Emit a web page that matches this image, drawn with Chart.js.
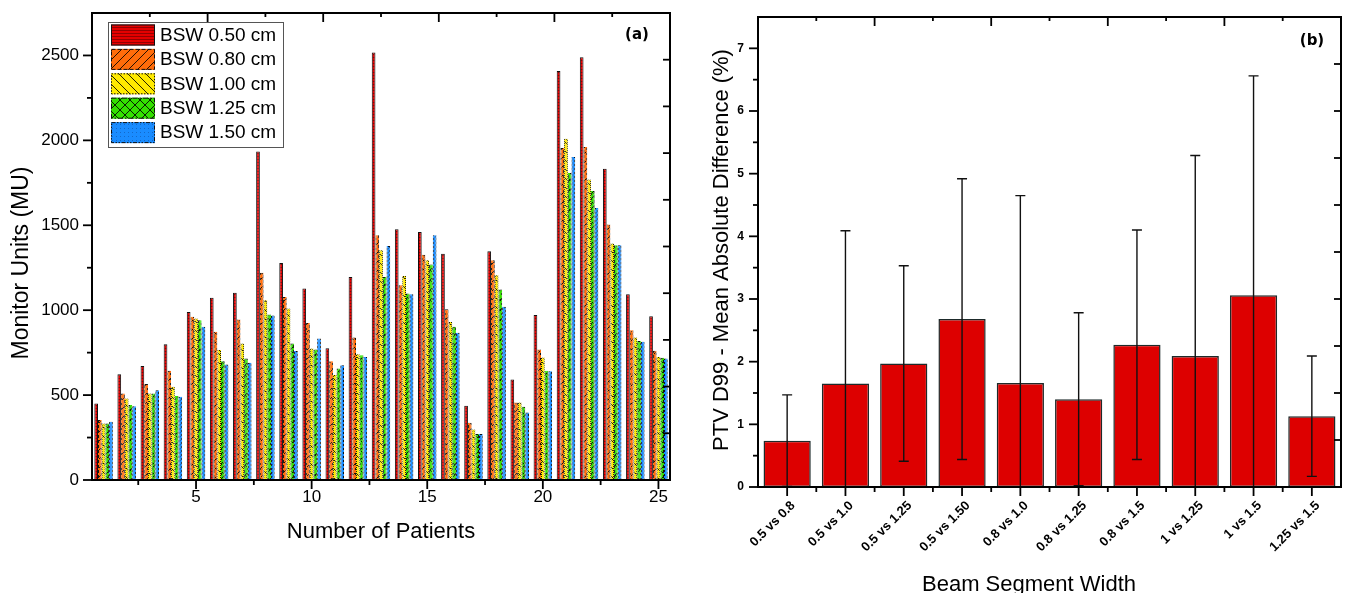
<!DOCTYPE html>
<html>
<head>
<meta charset="utf-8">
<title>Monitor units per patient and PTV D99 differences by beam segment width</title>
<script src="https://cdn.jsdelivr.net/npm/chart.js@4.4.1/dist/chart.umd.min.js"></script>
<style>
  html, body { margin: 0; padding: 0; background: #fff; }
  #wrap { position: relative; width: 1348px; height: 593px; }
  #chartA { position: absolute; left: 0; top: 0; }
  #chartB { position: absolute; left: 680px; top: 0; }
</style>
</head>
<body>
<div id="wrap">
  <canvas id="chartA" width="680" height="593"></canvas>
  <canvas id="chartB" width="668" height="593"></canvas>
</div>
<script>
// ---- panel (a): monitor units per patient ----
const patients = ['1', '2', '3', '4', '5', '6', '7', '8', '9', '10', '11', '12', '13',
  '14', '15', '16', '17', '18', '19', '20', '21', '22', '23', '24', '25'];
const patientTicks = ['5', '10', '15', '20', '25'];
const seriesNames = ['BSW 0.50 cm', 'BSW 0.80 cm', 'BSW 1.00 cm', 'BSW 1.25 cm', 'BSW 1.50 cm'];
const bsw050 = [451, 623, 671, 800, 990, 1073, 1102, 1935, 1278, 1127, 776, 1196, 2518, 1477, 1461, 1333, 437, 1347, 592, 971, 2408, 2490, 1833, 1094, 965];
const bsw080 = [353, 510, 565, 643, 961, 873, 945, 1220, 1078, 925, 700, 839, 1441, 1147, 1327, 1006, 337, 1294, 457, 769, 1955, 1961, 1504, 882, 761];
const bsw100 = [333, 480, 510, 549, 951, 765, 804, 1059, 1010, 775, 618, 741, 1353, 1202, 1294, 931, 298, 1206, 457, 722, 2010, 1769, 1392, 839, 725];
const bsw125 = [333, 441, 510, 494, 941, 700, 716, 975, 804, 769, 657, 735, 1196, 1098, 1269, 902, 271, 1122, 431, 643, 1808, 1702, 1382, 818, 720];
const bsw150 = [343, 435, 529, 490, 902, 680, 690, 969, 759, 833, 676, 725, 1378, 1094, 1441, 867, 271, 1020, 398, 641, 1902, 1602, 1382, 814, 716];
const muMajor = [0, 500, 1000, 1500, 2000, 2500];
const muMinor = [250, 750, 1250, 1750, 2250];

// ---- panel (b): PTV D99 mean absolute difference ----
const comparisons = ['0.5 vs 0.8', '0.5 vs 1.0', '0.5 vs 1.25', '0.5 vs 1.50', '0.8 vs 1.0',
  '0.8 vs 1.25', '0.8 vs 1.5', '1 vs 1.25', '1 vs 1.5', '1.25 vs 1.5'];
const meanDiff = [0.74, 1.65, 1.97, 2.68, 1.66, 1.40, 2.27, 2.09, 3.06, 1.13];
const sdDiff = [0.73, 2.44, 1.56, 2.24, 2.99, 1.38, 1.83, 3.20, 3.50, 0.96];
const pctMajor = [0, 1, 2, 3, 4, 5, 6, 7];
const pctMinor = [0.5, 1.5, 2.5, 3.5, 4.5, 5.5, 6.5];

const FONT = "'Liberation Sans', Arial, sans-serif";
Chart.defaults.font.family = FONT;
Chart.defaults.color = '#000';

const ctxA = document.getElementById('chartA').getContext('2d');
const ctxB = document.getElementById('chartB').getContext('2d');

// small canvas tiles used as fill patterns (Origin style hatching)
function makeTile(size, color, paint) {
  const c = document.createElement('canvas');
  c.width = c.height = size;
  const g = c.getContext('2d');
  g.fillStyle = color;
  g.fillRect(0, 0, size, size);
  g.strokeStyle = 'rgba(0,0,0,0.85)';
  g.lineWidth = 1;
  paint(g, size);
  return ctxA.createPattern(c, 'repeat');
}
const fills = [
  makeTile(3, '#e50000', (g, s) => { g.strokeStyle = 'rgba(0,0,0,0.35)'; g.beginPath(); g.moveTo(0, 0.5); g.lineTo(s, 0.5); g.stroke(); }),
  makeTile(9, '#ff6c0a', (g, s) => { g.beginPath(); for (const o of [-s, 0, s]) { g.moveTo(o, s); g.lineTo(o + s, 0); } g.stroke(); }),
  makeTile(9, '#ffea00', (g, s) => { g.beginPath(); for (const o of [-s, 0, s]) { g.moveTo(o, 0); g.lineTo(o + s, s); } g.stroke(); }),
  makeTile(10, '#33e000', (g, s) => { g.beginPath(); for (const o of [-s, 0, s]) { g.moveTo(o, s); g.lineTo(o + s, 0); g.moveTo(o, 0); g.lineTo(o + s, s); } g.stroke(); }),
  makeTile(4, '#1a8cff', (g, s) => { g.fillStyle = 'rgba(0,0,40,0.25)'; g.fillRect(0, 0, 1, 1); })
];

// dashed bar outlines: checker tile so both edges get dashes
function edgePattern(color, on, off) {
  const n = on + off;
  const c = document.createElement('canvas');
  c.width = c.height = n;
  const g = c.getContext('2d');
  g.fillStyle = color;
  g.fillRect(0, 0, n, n);
  g.fillStyle = '#111';
  for (let x = 0; x < n; x++) {
    for (let y = 0; y < n; y++) {
      if ((x < on) !== (y < on)) g.fillRect(x, y, 1, 1);
    }
  }
  return ctxA.createPattern(c, 'repeat');
}
const edges = ['#111', edgePattern('#ff6c0a', 3, 2), edgePattern('#ffea00', 1, 1),
  edgePattern('#33e000', 3, 2), edgePattern('#1a8cff', 2, 2)];
const legendDash = [[], [4, 2], [1.5, 1.5], [5, 2, 1.5, 2], [4, 1.5, 1.5, 1.5, 1.5, 1.5]];

// keep the chart area exactly where the layout padding puts it
const noPadY = s => { s.paddingTop = 0; s.paddingBottom = 0; };
const noPadX = s => { s.paddingLeft = 0; s.paddingRight = 0; };

// frame, Origin-like ticks and axis titles
function makeFrame(cfg) {
  return {
    id: 'frame',
    afterDraw(chart) {
      const { ctx, chartArea: a, scales: { x, y } } = chart;
      ctx.save();
      ctx.strokeStyle = '#000';
      ctx.lineWidth = 1.8;
      const line = (x1, y1, x2, y2) => { ctx.beginPath(); ctx.moveTo(x1, y1); ctx.lineTo(x2, y2); ctx.stroke(); };
      cfg.yMajor.forEach(v => { const p = y.getPixelForValue(v); line(a.left, p, a.left - 9, p); });
      cfg.yMinor.forEach(v => { const p = y.getPixelForValue(v); line(a.left, p, a.left - 5, p); });
      cfg.xMajor.forEach(v => { const p = x.getPixelForValue(v); line(p, a.bottom, p, a.bottom + 9); });
      cfg.xMinor.forEach(v => { const p = x.getPixelForValue(v); line(p, a.bottom, p, a.bottom + 5); });
      for (let k = 1; k < 10; k++) {
        const px = a.left + (a.right - a.left) * k / 10;
        line(px, a.top, px, a.top + (k % 2 ? 4 : 9));
        const py = a.bottom - (a.bottom - a.top) * k / 10;
        line(a.right, py, a.right - 7, py);
      }
      ctx.lineWidth = 2;
      ctx.strokeRect(a.left, a.top, a.right - a.left, a.bottom - a.top);

      ctx.fillStyle = '#000';
      ctx.textAlign = 'center';
      ctx.textBaseline = 'alphabetic';
      cfg.titles.forEach(t => {
        ctx.save();
        ctx.font = t.font;
        ctx.translate(t.x, t.y);
        if (t.rot) ctx.rotate(-Math.PI / 2);
        ctx.fillText(t.text, 0, 0);
        ctx.restore();
      });
      ctx.restore();
    }
  };
}

const boxLegend = {
  id: 'boxLegend',
  afterDraw(chart) {
    const ctx = chart.ctx;
    ctx.save();
    ctx.fillStyle = '#fff';
    ctx.fillRect(108, 22, 175, 125);
    ctx.strokeStyle = '#555';
    ctx.lineWidth = 1;
    ctx.strokeRect(108.5, 22.5, 175, 125);
    ctx.font = '19px ' + FONT;
    ctx.textBaseline = 'middle';
    chart.data.datasets.forEach((ds, i) => {
      const top = 24.5 + i * 24.4;
      ctx.fillStyle = ds.backgroundColor;
      ctx.fillRect(111, top, 44, 21);
      ctx.setLineDash(legendDash[i]);
      ctx.strokeStyle = '#111';
      ctx.strokeRect(111.5, top + 0.5, 43, 20);
      ctx.setLineDash([]);
      ctx.fillStyle = '#000';
      ctx.fillText(ds.label, 160, top + 11);
    });
    ctx.restore();
  }
};

new Chart(ctxA, {
  type: 'bar',
  data: {
    labels: patients,
    datasets: [bsw050, bsw080, bsw100, bsw125, bsw150].map((vals, i) => ({
      label: seriesNames[i],
      data: vals,
      backgroundColor: fills[i],
      borderColor: edges[i],
      borderWidth: 1,
      borderSkipped: 'bottom',
      categoryPercentage: 0.8,
      barPercentage: 1
    }))
  },
  options: {
    responsive: false,
    animation: false,
    layout: { padding: { left: 0, right: 10, top: 13, bottom: 50 } },
    plugins: { legend: { display: false }, tooltip: { enabled: false } },
    scales: {
      x: {
        grid: { display: false, drawTicks: false },
        border: { display: false },
        ticks: {
          autoSkip: false, maxRotation: 0, padding: 7, font: { size: 17 },
          callback: (v, i) => patientTicks.includes(patients[i]) ? patients[i] : ''
        },
        afterFit: s => { s.height = 63; noPadX(s); }
      },
      y: {
        min: 0, max: 2750,
        grid: { display: false, drawTicks: false },
        border: { display: false },
        ticks: { padding: 13, font: { size: 17 }, callback: v => String(v) },
        afterBuildTicks: s => { s.ticks = muMajor.map(v => ({ value: v })); },
        afterFit: s => { s.width = 92; noPadY(s); }
      }
    }
  },
  plugins: [makeFrame({
    yMajor: muMajor, yMinor: muMinor,
    xMajor: patientTicks.map(p => patients.indexOf(p)),
    xMinor: [1.5, 6.5, 11.5, 16.5, 21.5],
    titles: [
      { text: 'Monitor Units (MU)', x: 28, y: 263, rot: true, font: '23px ' + FONT },
      { text: 'Number of Patients', x: 381, y: 538, font: '22px ' + FONT },
      { text: '(a)', x: 637, y: 39, font: 'bold 15px "DejaVu Sans"' }
    ]
  }), boxLegend]
});

const errorBars = {
  id: 'errorBars',
  afterDatasetsDraw(chart) {
    const { ctx, chartArea: a, scales: { y } } = chart;
    const meta = chart.getDatasetMeta(0);
    ctx.save();
    ctx.beginPath();
    ctx.rect(a.left, a.top, a.right - a.left, a.bottom - a.top);
    ctx.clip();
    ctx.strokeStyle = '#111';
    ctx.lineWidth = 1.4;
    meta.data.forEach((bar, i) => {
      const hi = y.getPixelForValue(meanDiff[i] + sdDiff[i]);
      const lo = y.getPixelForValue(meanDiff[i] - sdDiff[i]);
      ctx.beginPath();
      ctx.moveTo(bar.x, hi); ctx.lineTo(bar.x, lo);
      ctx.moveTo(bar.x - 5, hi); ctx.lineTo(bar.x + 5, hi);
      ctx.moveTo(bar.x - 5, lo); ctx.lineTo(bar.x + 5, lo);
      ctx.stroke();
    });
    ctx.restore();
  }
};

new Chart(ctxB, {
  type: 'bar',
  data: {
    labels: comparisons,
    datasets: [{
      label: 'PTV D99 - Mean Absolute Difference (%)',
      data: meanDiff,
      backgroundColor: '#dd0000',
      borderColor: '#1d2a2a',
      borderWidth: 1.5,
      borderSkipped: false,
      categoryPercentage: 0.81,
      barPercentage: 1
    }]
  },
  options: {
    responsive: false,
    animation: false,
    layout: { padding: { left: 0, right: 7, top: 17, bottom: 6 } },
    plugins: { legend: { display: false }, tooltip: { enabled: false } },
    scales: {
      x: {
        grid: { display: false, drawTicks: false },
        border: { display: false },
        ticks: { autoSkip: false, minRotation: 45, maxRotation: 45, padding: 11, labelOffset: 6, font: { size: 13, weight: 'bold' } },
        afterFit: s => { s.height = 100; noPadX(s); }
      },
      y: {
        min: 0, max: 7.5,
        grid: { display: false, drawTicks: false },
        border: { display: false },
        ticks: { padding: 14, font: { size: 12, weight: 'bold' }, callback: v => String(v) },
        afterBuildTicks: s => { s.ticks = pctMajor.map(v => ({ value: v })); },
        afterFit: s => { s.width = 78; noPadY(s); }
      }
    }
  },
  plugins: [errorBars, makeFrame({
    yMajor: pctMajor, yMinor: pctMinor,
    xMajor: comparisons.map((c, i) => i),
    xMinor: [0.5, 1.5, 2.5, 3.5, 4.5, 5.5, 6.5, 7.5, 8.5],
    titles: [
      { text: 'PTV D99 - Mean Absolute Difference (%)', x: 48, y: 250, rot: true, font: '22px ' + FONT },
      { text: 'Beam Segment Width', x: 349, y: 591, font: '22px ' + FONT },
      { text: '(b)', x: 632, y: 45, font: 'bold 15px "DejaVu Sans"' }
    ]
  })]
});
</script>
</body>
</html>
